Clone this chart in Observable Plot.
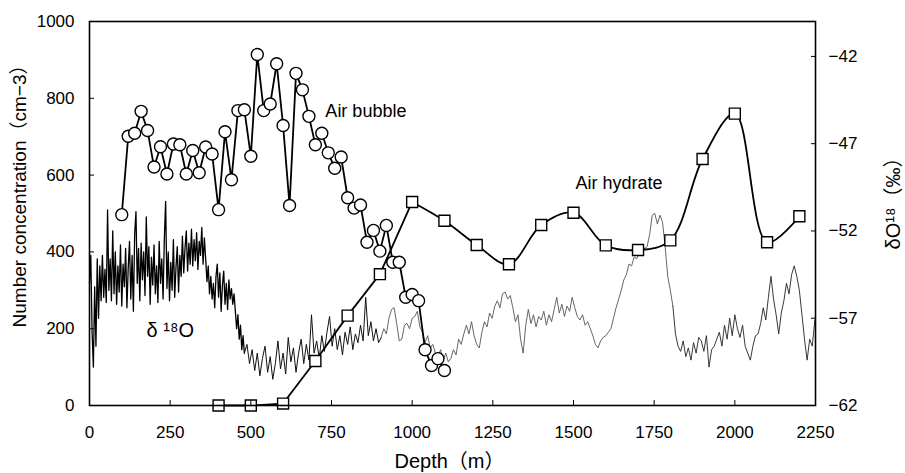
<!DOCTYPE html>
<html><head><meta charset="utf-8">
<script src="https://cdn.jsdelivr.net/npm/d3@7"></script>
<script src="https://cdn.jsdelivr.net/npm/@observablehq/plot@0.6"></script>
<style>
body{margin:0;background:#fff;}
g[aria-label="ytitle"] text{letter-spacing:0.8px;}
</style>
</head><body><div id="chart"></div>
<script>
// ---- Data ----
const bubbleDepth = [100,120,140,160,180,200,220,240,260,280,300,320,340,360,380,400,420,440,460,480,500,520,540,560,580,600,620,640,660,680,700,720,740,760,780,800,820,840,860,880,900,920,940,960,980,1000,1020,1040,1060,1080,1100];
const bubbleCount = [497,701,709,766,716,621,674,603,681,679,603,664,606,673,655,510,713,588,768,770,649,914,768,785,890,729,521,865,822,753,679,709,658,618,647,541,514,522,425,456,402,469,373,373,282,289,273,145,104,122,91];

const hydrateDepth = [400,500,600,700,800,900,1000,1100,1200,1300,1400,1500,1600,1700,1800,1900,2000,2100,2200];
const hydrateCount = [0,0,5,116,234,342,530,481,418,368,470,502,417,405,430,642,760,425,493];

// δ18O (‰), segment A: depth 0..480 m every 4 m
const d18oStartA = 0, d18oStepA = 4;
const d18oA = [
-55.0,-53.4,-57.8,-59.8,-55.2,-58.6,-53.6,-57.0,-54.0,-56.0,
-53.4,-55.8,-54.2,-56.1,-50.8,-55.4,-53.6,-56.0,-52.0,-55.6,
-53.2,-56.2,-54.0,-55.5,-52.8,-56.3,-53.9,-55.2,-53.0,-56.4,
-54.1,-52.6,-55.9,-53.4,-56.6,-52.2,-50.9,-55.0,-53.0,-56.0,
-52.7,-54.8,-53.2,-55.7,-51.2,-54.6,-52.9,-56.2,-53.5,-55.1,
-52.8,-55.6,-54.0,-56.1,-52.6,-55.0,-53.6,-55.9,-52.4,-50.3,
-55.3,-53.2,-56.0,-53.8,-55.4,-52.5,-55.8,-54.1,-52.9,-55.5,
-53.4,-54.6,-52.3,-54.4,-53.0,-52.0,-54.3,-52.7,-53.9,-51.9,
-54.0,-52.5,-53.7,-52.1,-54.2,-52.6,-53.4,-51.8,-53.9,-52.4,
-53.6,-54.9,-54.0,-55.6,-54.6,-55.9,-55.0,-56.4,-54.6,-53.9,
-55.8,-54.4,-56.6,-55.1,-54.3,-56.2,-55.0,-56.5,-54.8,-55.9,
-55.3,-56.2,-55.6,-56.6,-57.6,-56.8,-58.2,-57.4,-58.8,-58.0,
-59.0];
// δ18O (‰), segment B: depth 488..2248 m every 8 m
const d18oStartB = 488, d18oStepB = 8;
const d18oB = [
-58.5,-59.6,-58.8,-60.0,-59.0,-60.3,-59.3,-58.6,-60.1,-59.2,
-60.5,-59.6,-58.3,-59.9,-59.0,-60.2,-58.1,-59.5,-58.7,-60.1,
-59.0,-58.2,-59.6,-58.5,-59.4,-56.8,-59.0,-58.3,-59.3,-58.0,
-58.9,-57.8,-56.9,-58.6,-57.6,-58.8,-58.0,-59.1,-57.8,-58.5,
-57.5,-58.8,-57.9,-58.4,-57.4,-58.3,-55.8,-58.0,-57.2,-58.3,
-57.6,-58.4,-58.1,-57.6,-57.9,-57.0,-56.5,-56.4,-57.3,-58.3,
-58.2,-57.4,-57.3,-57.6,-57.0,-56.9,-56.6,-57.5,-57.8,-58.4,
-58.0,-58.7,-58.5,-59.0,-59.2,-58.8,-59.4,-59.0,-59.5,-59.3,
-58.8,-59.1,-58.2,-58.5,-57.9,-57.4,-57.9,-57.2,-58.0,-58.5,
-58.7,-57.8,-57.2,-57.5,-56.7,-57.0,-56.3,-56.0,-56.4,-55.6,
-55.5,-55.9,-55.7,-56.4,-57.2,-56.8,-58.2,-59.0,-57.4,-56.5,
-57.3,-56.8,-57.5,-56.9,-57.1,-56.6,-57.4,-56.8,-57.2,-56.5,
-55.8,-56.7,-56.2,-56.9,-56.3,-56.6,-55.8,-56.4,-56.9,-57.1,
-56.8,-57.4,-57.2,-57.6,-58.0,-58.5,-58.7,-58.3,-58.1,-58.0,
-57.8,-57.6,-57.0,-56.4,-55.9,-55.4,-54.8,-54.5,-53.9,-54.0,
-53.5,-53.6,-53.2,-53.4,-53.0,-52.9,-52.2,-51.1,-51.0,-51.6,
-51.1,-51.5,-52.9,-54.6,-55.4,-56.3,-57.9,-58.6,-58.9,-58.3,
-59.2,-58.7,-59.4,-58.4,-59.0,-58.1,-58.3,-58.9,-58.0,-59.8,
-58.8,-58.6,-58.2,-57.8,-58.6,-57.4,-58.2,-57.0,-58.0,-56.8,
-57.6,-58.1,-57.4,-58.6,-59.0,-59.4,-58.6,-58.0,-57.9,-57.3,
-56.4,-57.1,-55.8,-54.6,-55.9,-56.8,-57.9,-56.7,-56.0,-55.0,
-55.6,-54.5,-54.0,-54.6,-55.4,-56.8,-58.2,-59.4,-58.2,-58.6,
-57.1];

const xTicks = [0,250,500,750,1000,1250,1500,1750,2000,2250];
const yTicks = [0,200,400,600,800,1000];
const rightTickLabels = [-62,-57,-52,-47,-42];
const rightDomain = [-62,-40];
const leftDomain = [0,1000];

const labels = [
  {text: "Air bubble", depth: 731, count: 766, size: 18},
  {text: "Air hydrate", depth: 1506, count: 578, size: 18},
  {text: "δ ¹⁸O", depth: 177, count: 195, size: 20}
];
const xTitle = "Depth（m）";
const yTitle = "Number concentration（cm−3）";
const y2Title = "δO¹⁸（‰）";

// ---- Build tables ----
const toLeft = v => (v - rightDomain[0]) / (rightDomain[1] - rightDomain[0]) * (leftDomain[1] - leftDomain[0]) + leftDomain[0];
const fromLeft = u => (u - leftDomain[0]) / (leftDomain[1] - leftDomain[0]) * (rightDomain[1] - rightDomain[0]) + rightDomain[0];

const bubbles = bubbleDepth.map((d, i) => ({depth: d, count: bubbleCount[i]}));
const hydrate = hydrateDepth.map((d, i) => ({depth: d, count: hydrateCount[i]}));
const d18o = [
  ...d18oA.map((v, i) => ({depth: d18oStartA + i * d18oStepA, value: v})),
  ...d18oB.map((v, i) => ({depth: d18oStartB + i * d18oStepB, value: v}))
];
const minus = s => String(s).replace("-", "−");
const plain = d3.format("d");

const font = "'Liberation Sans', Arial, 'Noto Sans CJK JP', sans-serif";

const chart = Plot.plot({
  width: 905, height: 473,
  marginLeft: 89, marginRight: 90, marginTop: 21, marginBottom: 68,
  style: {fontFamily: font, fontSize: "17px", color: "#000", background: "#fff"},
  x: {domain: [0, 2250]},
  y: {domain: leftDomain},
  marks: [
    Plot.line(d18o, {filter: d => d.depth <= 480, x: "depth", y: d => toLeft(d.value), stroke: "#000", strokeWidth: 1.3}),
    Plot.line(d18o, {filter: d => d.depth >= 480 && d.depth <= 904, x: "depth", y: d => toLeft(d.value), stroke: "#111", strokeWidth: 1}),
    Plot.line(d18o, {filter: d => d.depth >= 904 && d.depth <= 1808, x: "depth", y: d => toLeft(d.value), stroke: "#555", strokeWidth: 0.9}),
    Plot.line(d18o, {filter: d => d.depth >= 1808, x: "depth", y: d => toLeft(d.value), stroke: "#222", strokeWidth: 0.9}),
    Plot.line(hydrate, {filter: d => d.depth <= 1000, x: "depth", y: "count", stroke: "#000", strokeWidth: 1.8}),
    Plot.line(hydrate, {filter: d => d.depth >= 1000, x: "depth", y: "count", stroke: "#000", strokeWidth: 1.8, curve: "catmull-rom"}),
    Plot.line(bubbles, {x: "depth", y: "count", stroke: "#000", strokeWidth: 1.8}),
    Plot.dot(hydrate, {x: "depth", y: "count", symbol: "square", r: 6.2, fill: "#fff", stroke: "#000", strokeWidth: 1.4}),
    Plot.dot(bubbles, {x: "depth", y: "count", r: 6, fill: "#fff", stroke: "#000", strokeWidth: 1.4}),
    Plot.frame({stroke: "#000", strokeWidth: 1.6}),
    Plot.axisX({ticks: xTicks, anchor: "bottom", tickSize: -5, tickPadding: 25, label: null, fontSize: 17, tickFormat: plain}),
    Plot.axisY({ticks: yTicks, anchor: "left", tickSize: -5, tickPadding: 20, label: null, fontSize: 17, tickFormat: plain}),
    Plot.axisY({ticks: rightTickLabels.map(toLeft), anchor: "right", tickSize: -5, tickPadding: 18, label: null, fontSize: 17,
      tickFormat: u => minus(Math.round(fromLeft(u)))}),
    Plot.text(labels.filter(d => d.size === 18), {x: "depth", y: "count", text: "text", textAnchor: "start", fontSize: 18, fill: "#000"}),
    Plot.text(labels.filter(d => d.size === 20), {x: "depth", y: "count", text: "text", textAnchor: "start", fontSize: 20, fill: "#000"}),
    Plot.text([xTitle], {frameAnchor: "bottom", textAnchor: "middle", lineAnchor: "middle", dx: -3, dy: 56, fontSize: 20, fill: "#000"}),
    Plot.text([yTitle], {frameAnchor: "left", textAnchor: "middle", lineAnchor: "middle", dx: -70, dy: -22, rotate: -90, fontSize: 19, fill: "#000", ariaLabel: "ytitle"}),
    Plot.text([y2Title], {frameAnchor: "right", textAnchor: "middle", lineAnchor: "middle", dx: 78, dy: -15, rotate: -90, fontSize: 20, fill: "#000"})
  ]
});
document.getElementById("chart").appendChild(chart);
</script>
</body></html>
